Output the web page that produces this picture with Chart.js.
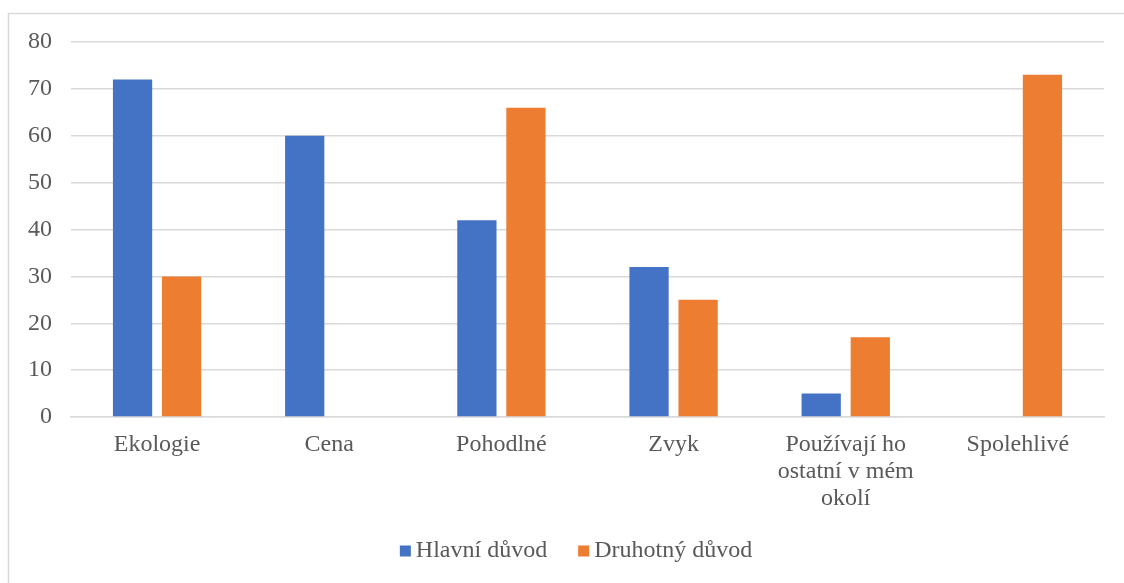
<!DOCTYPE html>
<html>
<head>
<meta charset="utf-8">
<script src="https://cdn.jsdelivr.net/npm/chart.js@4.4.1/dist/chart.umd.min.js"></script>
<style>
html,body{margin:0;padding:0;background:#fff;}
#wrap{position:absolute;left:0;top:0;width:1124px;height:583px;}
</style>
</head>
<body>
<div id="wrap"><canvas id="c" width="1124" height="583"></canvas></div>
<script>
const categories = ['Ekologie', 'Cena', 'Pohodlné', 'Zvyk', ['Používají ho', 'ostatní v mém', 'okolí'], 'Spolehlivé'];
const hlavniDuvod = [72, 60, 42, 32, 5, 0];
const druhotnyDuvod = [30, 0, 66, 25, 17, 73];
const seriesNames = ['Hlavní důvod', 'Druhotný důvod'];
const yTicks = { min: 0, max: 80, step: 10 };

const textColor = '#595959';
const gridColor = '#d9d9d9';
const font = 'Liberation Serif';

const borderPlugin = {
  id: 'frame',
  beforeDraw(chart) {
    const ctx = chart.ctx;
    ctx.save();
    ctx.fillStyle = '#fff';
    ctx.fillRect(0, 0, chart.width, chart.height);
    ctx.strokeStyle = gridColor;
    ctx.lineWidth = 1.5;
    ctx.strokeRect(8.5, 13.5, 3000, 3000);
    ctx.restore();
  }
};

// Custom legend drawn from the datasets (Excel-like spacing)
const legendPlugin = {
  id: 'xlLegend',
  afterDraw(chart) {
    const ctx = chart.ctx;
    const box = 11, textGap = 5, itemGap = 31;
    ctx.save();
    ctx.font = '24px "' + font + '"';
    ctx.textBaseline = 'middle';
    const items = chart.data.datasets.map(ds => ({ label: ds.label, color: ds.backgroundColor, w: ctx.measureText(ds.label).width }));
    let total = 0;
    items.forEach((it, i) => { total += box + textGap + it.w + (i < items.length - 1 ? itemGap : 0); });
    const cx = 576;
    const cy = 551;
    let x = cx - total / 2;
    items.forEach(it => {
      ctx.fillStyle = it.color;
      ctx.fillRect(x, cy - box / 2, box, box);
      ctx.fillStyle = textColor;
      ctx.fillText(it.label, x + box + textGap, cy);
      x += box + textGap + it.w + itemGap;
    });
    ctx.restore();
  }
};

new Chart(document.getElementById('c'), {
  type: 'bar',
  data: {
    labels: categories,
    datasets: [
      { label: seriesNames[0], data: hlavniDuvod, backgroundColor: '#4472C4', categoryPercentage: 0.57, barPercentage: 0.8 },
      { label: seriesNames[1], data: druhotnyDuvod, backgroundColor: '#ED7D31', categoryPercentage: 0.57, barPercentage: 0.8 }
    ]
  },
  options: {
    responsive: false,
    animation: false,
    devicePixelRatio: 1,
    layout: { padding: { left: 0, right: 20, top: 42, bottom: 71 } },
    plugins: {
      tooltip: { enabled: false },
      legend: { display: false }
    },
    scales: {
      x: {
        grid: { display: false, drawTicks: false },
        border: { display: true, color: gridColor, width: 1.5 },
        ticks: { color: textColor, font: { family: font, size: 24, lineHeight: 1.13 }, padding: 14, maxRotation: 0, autoSkip: false },
        afterFit(axis) { axis.height = 95; }
      },
      y: {
        min: yTicks.min, max: yTicks.max,
        grid: { color: gridColor, lineWidth: 1.5, drawTicks: false },
        border: { display: false },
        ticks: { stepSize: yTicks.step, color: textColor, font: { family: font, size: 24 }, padding: 19 },
        afterFit(axis) { axis.width = 71; }
      }
    }
  },
  plugins: [borderPlugin, legendPlugin]
});
</script>
</body>
</html>
